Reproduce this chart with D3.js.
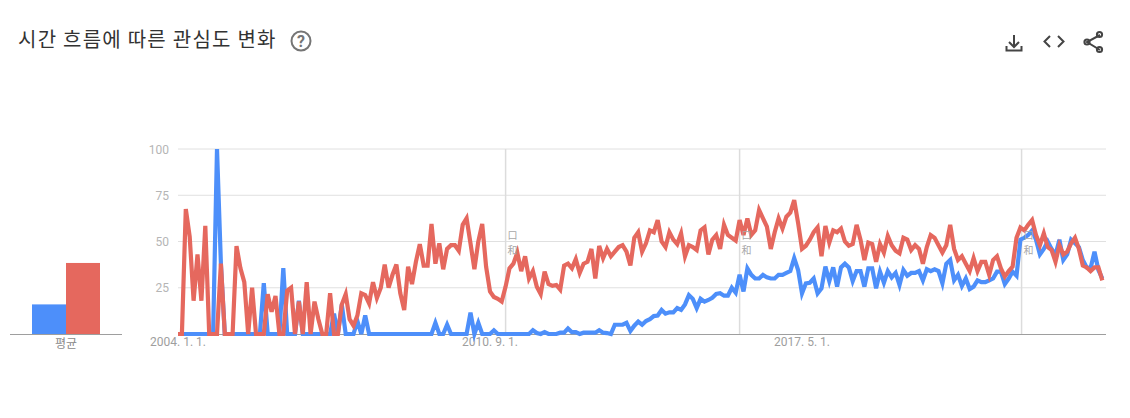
<!DOCTYPE html>
<html><head><meta charset="utf-8">
<script src="https://cdnjs.cloudflare.com/ajax/libs/d3/7.8.5/d3.min.js"></script>
<style>html,body{margin:0;padding:0;background:#fff}svg{display:block}text{font-family:"Noto Sans CJK KR","Noto Sans",Roboto,sans-serif}</style>
</head><body><svg id="c" width="1130" height="418"></svg>
<script>
const title = "시간 흐름에 따른 관심도 변화";
const avgLabel = "평균";
const yTicks = [25, 50, 75, 100];
const xTickLabels = [[0, "2004. 1. 1."], [80, "2010. 9. 1."], [160, "2017. 5. 1."]];
const noteMonths = [84, 144, 216.3];
const averages = [16, 38.4];
const seriesBlue = [0,0,0,0,0,0,0,0,0,0,100,38,0,0,0,0,0,0,0,0,0,0,27.5,0,0,0,0,35.6,0,0,0,18,0,0,0,0,0,0,0,0,11,0,16,0,0,0,7,0,10,0,0,0,0,0,0,0,0,0,0,0,
0,0,0,0,0,0,6,0,0,5,0,0,0,0,0,11.5,0,6,0,0,0,2,0,0,0,0,0,0,0,0,0,2,0.5,0,1,0,0,0,0.7,0.7,3,1,1,0,0.7,0.7,0.7,0.7,2,0.7,0.5,0,5,5,5,6,1.6,4.5,6.7,5,7,8,
9.7,10,13,11,11.7,11.7,14,13,16,21,19,14,19,17.5,18.4,19.6,21.6,22,20.7,20.7,25,22.3,32,23,35.5,32,30,30,32,30.6,30,30,32,32,33,34,41,34.6,22,27.4,27.7,30,22,24.7,36.4,28.6,36,25.6,36,38,36,28.6,34,34,25.6,35.5,
35.5,24.7,33.7,27.7,34,30.6,33,26.5,34.6,31.5,33,33,34,29,35,34,35,34,27.4,38,40,29,32,26,30,24.3,25.6,29,28,28,29,30,33.7,33.7,27,30,33.7,31.5,51,52,53.5,56,51,43,46,50,46,42.7,51,40,43,51,49,47,40,36,35.5,44.5,34.6,30];
const seriesRed = [0,0,67.5,52.6,18,43,18,58.5,0,0,0,38,0,0,0,47.5,35.6,28,0,25,0,0,0,21.5,12,20.5,0,0,23.4,25,0,17.5,0,28,0,17.5,8,0,0,22,0,0,16,21.5,8,4.5,10,22,21,16.5,28,19.5,25,37.5,25,32,37.5,22,13,36.4,
27,39,48.6,37,37,59.5,38,49,35,46,48,48,45,59,62.5,49,35,50,59.5,36.4,23,20,19,17.5,25.6,35.5,38,44,34,42,30,34,25.6,21.6,33.7,27,26,26.5,24,37,38,35.5,40.5,33,38,39,46,30,47.6,41,46,42,44.5,47,48,44.5,37,52,55,44.5,49,56,
55,61.6,50,47,55,51,48.6,54.4,42,48,47,45.4,56,57.6,43,51,53.5,46,59,53.5,52,50.5,61.6,53.5,62.5,53.5,56,67,62.5,58,46,55,62.5,57,63.4,65.6,72.4,60,46,47.7,51,55,57.6,42,58.4,49.4,56,55,57,50,47.7,48.6,59,51,40,49.4,
48.6,39,48.6,44,53,48,45,43.6,52,51,45.4,48,46,38,47,53.5,52,48,44,48,59,46,40,42,38,34,41,34,39,39,32,40,42,35.5,31,34,36.4,52,57.5,56,59,61.6,53.5,48,54.4,47,45.4,39,48,43,44.5,49,52,46,37,36,34,36,36,29];

const svg = d3.select("#c");
const x = d3.scaleLinear().domain([0, 237]).range([178, 1102.3]);
const y = d3.scaleLinear().domain([0, 100]).range([334, 149]);
const blue = "#4d8ffa", red = "#e5685e";

// title and icons
svg.append("text").attr("x", 18).attr("y", 47).attr("font-size", 20).attr("fill", "#333").attr("letter-spacing", 1.25).text(title);
const help = svg.append("g").attr("transform", "translate(301,41)");
help.append("circle").attr("r", 9.5).attr("fill", "none").attr("stroke", "#757575").attr("stroke-width", 2);
help.append("text").attr("text-anchor", "middle").attr("y", 6).attr("font-size", 16).attr("font-weight", 700).attr("fill", "#757575").style("font-family", "Roboto").text("?");
const ic = svg.append("g").attr("fill", "none").attr("stroke", "#444").attr("stroke-width", 2);
ic.append("path").attr("d", "M1014 35V46M1009 42l5 5 5-5M1006.5 46v4.5h15V46");
ic.append("path").attr("d", "M1050 36l-5.5 5.5 5.5 5.5M1058 36l5.5 5.5-5.5 5.5");
ic.append("path").attr("d", "M1100 35l-13 7 13 8");
[[1099.5,34.5],[1087,42],[1099.5,49.5]].forEach(p => ic.append("circle").attr("cx", p[0]).attr("cy", p[1]).attr("r", 2.6));

// grid
svg.append("g").selectAll("line").data(yTicks).join("line")
  .attr("x1", 178).attr("x2", 1106).attr("y1", d => y(d)).attr("y2", d => y(d)).attr("stroke", "#e0e0e0");
svg.append("g").selectAll("text").data(yTicks).join("text")
  .attr("x", 169).attr("y", d => y(d) + 4.5).attr("text-anchor", "end").attr("font-size", 12).attr("fill", "#b5b5b5").style("font-family", "Roboto").text(d => d);

// note lines
svg.append("g").selectAll("line").data(noteMonths).join("line")
  .attr("x1", d => x(d)).attr("x2", d => x(d)).attr("y1", 149).attr("y2", 334).attr("stroke", "#dcdcdc").attr("stroke-width", 1.5);

// baseline
svg.append("line").attr("x1", 178).attr("x2", 1106).attr("y1", 334.5).attr("y2", 334.5).attr("stroke", "#9e9e9e");
svg.append("line").attr("x1", 10).attr("x2", 122).attr("y1", 334.5).attr("y2", 334.5).attr("stroke", "#9e9e9e");

// averages
const bx = d3.scaleBand().domain([0, 1]).range([32, 100]);
svg.append("g").selectAll("rect").data(averages).join("rect")
  .attr("x", (d, i) => bx(i)).attr("width", bx.bandwidth()).attr("y", d => y(d)).attr("height", d => y(0) - y(d))
  .attr("fill", (d, i) => i ? red : blue);
svg.append("text").attr("x", 66).attr("y", 348).attr("text-anchor", "middle").attr("font-size", 12).attr("fill", "#8a8a8a").text(avgLabel);

// x labels
svg.append("g").selectAll("text").data(xTickLabels).join("text")
  .attr("x", d => x(d[0])).attr("y", 346).attr("text-anchor", "middle").attr("font-size", 12).attr("fill", "#9e9e9e").style("font-family", "Roboto").text(d => d[1]);

// lines
const line = d3.line().x((d, i) => x(i)).y(d => y(d)).curve(d3.curveLinear);
[[seriesBlue, blue], [seriesRed, red]].forEach(([s, c]) =>
  svg.append("path").attr("d", line(s)).attr("fill", "none").attr("stroke", c).attr("stroke-width", 4.2).attr("stroke-linejoin", "miter"));

// note marks
svg.append("g").selectAll("g").data(noteMonths).join("g").each(function (d) {
  const g = d3.select(this).attr("transform", `translate(${x(d) + 2},0)`);
  g.append("text").attr("y", 239).attr("font-size", 10).attr("fill", "#a8a8a8").text("口");
  g.append("text").attr("y", 254).attr("font-size", 10).attr("fill", "#a8a8a8").text("和");
});
</script></body></html>
